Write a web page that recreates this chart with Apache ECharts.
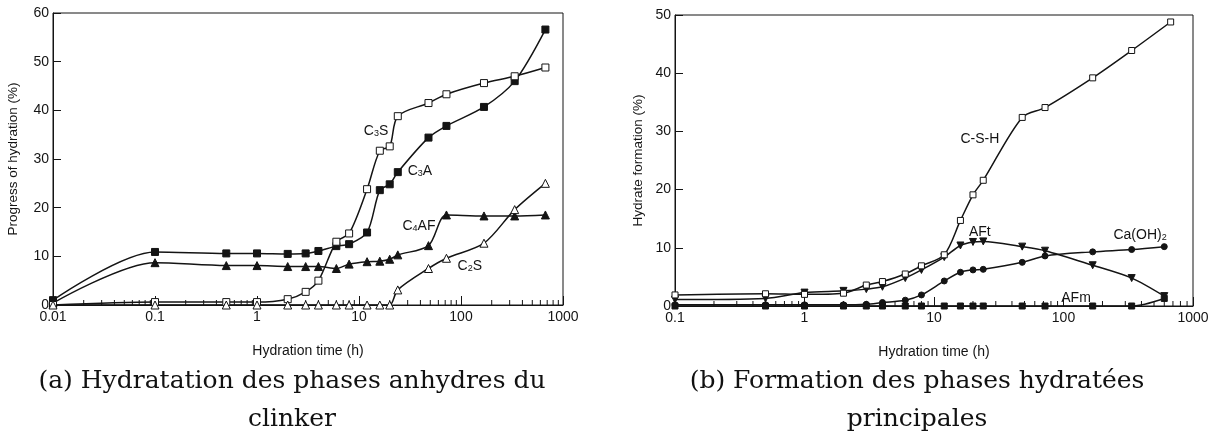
<!DOCTYPE html>
<html><head><meta charset="utf-8">
<script src="https://cdn.jsdelivr.net/npm/echarts@6/dist/echarts.min.js"></script>
<style>html,body{margin:0;padding:0;background:#fff}#c{width:1217px;height:437px}</style>
</head><body><div id="c"></div>
<script>
// ---------- data: chart (a) ----------
const timesA = [0.01, 0.1, 0.5, 1, 2, 3, 4, 6, 8, 12, 16, 20, 24, 48, 72, 168, 336, 672];
const c3s  = [0, 0.6, 0.6, 0.6, 1.2, 2.7, 5.0, 13.0, 14.7, 23.8, 31.7, 32.6, 38.8, 41.5, 43.3, 45.6, 47.0, 48.8];
const c3a  = [1.0, 10.9, 10.6, 10.6, 10.5, 10.6, 11.1, 12.1, 12.5, 14.9, 23.6, 24.8, 27.3, 34.4, 36.8, 40.7, 46.0, 56.6];
const c4af = [0.4, 8.7, 8.1, 8.1, 7.9, 7.9, 7.9, 7.5, 8.4, 8.9, 9.0, 9.4, 10.3, 12.2, 18.5, 18.3, 18.3, 18.5];
const c2s  = [0, 0, 0, 0, 0, 0, 0, 0, 0, 0, 0, 0, 3.1, 7.5, 9.6, 12.7, 19.6, 25.0];
const yTicksA = [0, 10, 20, 30, 40, 50, 60];
const xTickLabelsA = ['0.01', '0.1', '1', '10', '100', '1000'];

// ---------- data: chart (b) ----------
const timesB  = [0.1, 0.5, 1, 2, 3, 4, 6, 8, 12, 16, 20, 24, 48, 72, 168, 336, 672];
const timesB2 = [0.1, 0.5, 1, 2, 3, 4, 6, 8, 12, 16, 20, 24, 48, 72, 168, 336, 600];
const csh  = [1.9, 2.1, 2.0, 2.2, 3.6, 4.2, 5.5, 6.9, 8.8, 14.7, 19.1, 21.6, 32.4, 34.1, 39.2, 43.9, 48.8];
const aft  = [1.1, 1.3, 2.3, 2.6, 2.9, 3.3, 4.8, 6.2, 8.4, 10.4, 11.0, 11.1, 10.2, 9.5, 7.0, 4.8, 1.7];
const caoh = [0.2, 0.2, 0.2, 0.2, 0.3, 0.6, 1.0, 1.9, 4.3, 5.8, 6.2, 6.3, 7.5, 8.6, 9.3, 9.7, 10.2];
const afm  = [0, 0, 0, 0, 0, 0, 0, 0, 0, 0, 0, 0, 0, 0, 0, 0, 1.3];
const yTicksB = [0, 10, 20, 30, 40, 50];
const xTickLabelsB = ['0.1', '1', '10', '100', '1000'];

// label anchors (data coordinates)
const labelsA = [
  {parts: ['C', '3', 'S'], at: [14.7, 35.9]},
  {parts: ['C', '3', 'A'], at: [39.6, 27.7]},
  {parts: ['C', '4', 'AF'], at: [38.7, 16.4]},
  {parts: ['C', '2', 'S'], at: [122, 8.2]}
];
const labelsB = [
  {parts: ['C-S-H'], at: [22.6, 28.9]},
  {parts: ['AFt'], at: [22.6, 12.9]},
  {parts: ['Ca(OH)', '2'], at: [390, 12.4]},
  {parts: ['AFm'], at: [125, 1.5]}
];
const captionA = ['(a) Hydratation des phases anhydres du', 'clinker'];
const captionB = ['(b) Formation des phases hydratées', 'principales'];

const INK = '#141414';
const FONT = '"Liberation Sans", Arial, sans-serif';
const chart = echarts.init(document.getElementById('c'));

function lineSeries(name, gi, times, vals, sym, filled, size, rot) {
  return {
    type: 'line', name, xAxisIndex: gi, yAxisIndex: gi,
    data: times.map((t, i) => [t, vals[i]]),
    smooth: 0.3, symbol: sym, symbolSize: size, symbolRotate: rot || 0,
    showSymbol: true, showAllSymbol: true, animation: false,
    lineStyle: {color: INK, width: 1.5},
    itemStyle: {color: filled ? INK : '#fff', borderColor: INK, borderWidth: 1},
    emphasis: {disabled: true},
    z: filled ? 3 : 4
  };
}
function minorTicks(gi, lo, hi) {
  const d = [];
  for (let p = lo; p < hi; p++) for (let k = 2; k <= 9; k++) d.push([k * Math.pow(10, p), 0]);
  return {
    type: 'custom', xAxisIndex: gi, yAxisIndex: gi, data: d, silent: true, animation: false, z: 2,
    renderItem: (params, api) => {
      const p = api.coord([api.value(0), 0]);
      return {type: 'line', shape: {x1: p[0], y1: p[1], x2: p[0], y2: p[1] - 5},
              style: {stroke: INK, lineWidth: 1}};
    }
  };
}
function xAxis(gi, min, max, labels) {
  return {
    type: 'log', logBase: 10, gridIndex: gi, min, max,
    axisLine: {lineStyle: {color: INK, width: 1}},
    axisTick: {inside: true, length: 9, lineStyle: {color: INK}},
    axisLabel: {color: INK, fontSize: 14, fontFamily: FONT, margin: 5,
      formatter: v => labels.find(l => Math.abs(Math.log10(+l) - Math.log10(v)) < 1e-6) || ''},
    splitLine: {show: false}, minorTick: {show: false},
    name: 'Hydration time (h)', nameLocation: 'middle', nameGap: 39,
    nameTextStyle: {color: INK, fontSize: 14, fontFamily: FONT}
  };
}
function yAxis(gi, ticks, name, gap) {
  return {
    type: 'value', gridIndex: gi, min: ticks[0], max: ticks[ticks.length - 1], interval: ticks[1] - ticks[0],
    axisLine: {show: true, lineStyle: {color: INK, width: 1}},
    axisTick: {show: true, inside: true, length: 8, lineStyle: {color: INK}},
    axisLabel: {color: INK, fontSize: 14, fontFamily: FONT, margin: 4},
    splitLine: {show: false},
    name, nameLocation: 'middle', nameGap: gap,
    nameTextStyle: {color: INK, fontSize: 13.5, fontFamily: FONT}
  };
}

chart.setOption({
  backgroundColor: '#fff',
  animation: false,
  grid: [
    {left: 53, top: 13, width: 510, height: 292, show: true, borderColor: INK, borderWidth: 1, backgroundColor: 'transparent'},
    {left: 675, top: 15, width: 518, height: 291, show: true, borderColor: INK, borderWidth: 1, backgroundColor: 'transparent'}
  ],
  xAxis: [xAxis(0, 0.01, 1000, xTickLabelsA), xAxis(1, 0.1, 1000, xTickLabelsB)],
  yAxis: [yAxis(0, yTicksA, 'Progress of hydration (%)', 33), yAxis(1, yTicksB, 'Hydrate formation (%)', 30)],
  series: [
    minorTicks(0, -2, 3), minorTicks(1, -1, 3),
    lineSeries('C3A', 0, timesA, c3a, 'rect', true, 7),
    lineSeries('C4AF', 0, timesA, c4af, 'triangle', true, 8),
    lineSeries('C3S', 0, timesA, c3s, 'rect', false, 7),
    lineSeries('C2S', 0, timesA, c2s, 'triangle', false, 8),
    lineSeries('AFm', 1, timesB2, afm, 'rect', true, 6),
    lineSeries('Ca(OH)2', 1, timesB2, caoh, 'circle', true, 6),
    lineSeries('AFt', 1, timesB2, aft, 'triangle', true, 7, 180),
    lineSeries('C-S-H', 1, timesB, csh, 'rect', false, 6)
  ]
});

function richLabel(parts) {
  let s = '';
  parts.forEach((p, i) => { s += (i % 2 === 0 ? '{n|' : '{s|') + p + '}'; });
  return s;
}
const graphics = [];
[[labelsA, 0], [labelsB, 1]].forEach(([arr, gi]) => {
  arr.forEach(l => {
    const p = chart.convertToPixel({gridIndex: gi}, l.at);
    graphics.push({
      type: 'text', x: p[0], y: p[1], z: 10,
      style: {
        text: richLabel(l.parts), align: 'center', verticalAlign: 'middle',
        rich: {
          n: {fontSize: 14, fontFamily: FONT, fill: INK, lineHeight: 16, verticalAlign: 'bottom'},
          s: {fontSize: 9, fontFamily: FONT, fill: INK, lineHeight: 11, verticalAlign: 'bottom'}
        }
      }
    });
  });
});
[[captionA, 292], [captionB, 917]].forEach(([lines, cx]) => {
  lines.forEach((t, i) => {
    graphics.push({
      type: 'text', x: cx, y: 381 + i * 38,
      style: {text: t, align: 'center', verticalAlign: 'middle',
              font: '25px "DejaVu Serif", serif', fill: '#111'}
    });
  });
});
chart.setOption({graphic: graphics});
</script>
</body></html>
